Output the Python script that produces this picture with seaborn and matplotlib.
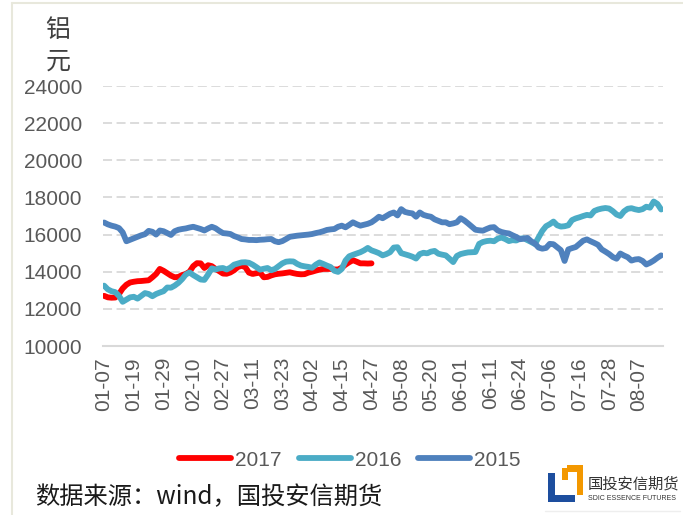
import pandas as pd
import seaborn as sns
import matplotlib.pyplot as plt
from matplotlib.lines import Line2D
from matplotlib.patches import Rectangle

tick_labels = ["01-07", "01-19", "01-29", "02-10", "02-27", "03-11", "03-23",
               "04-02", "04-15", "04-27", "05-08", "05-20", "06-01", "06-11",
               "06-24", "07-06", "07-16", "07-28", "08-07"]

price_2017 = [12700, 12620, 12600, 12610, 12800, 13100, 13300, 13420, 13460, 13490,
              13500, 13520, 13540, 13700, 13880, 14150, 14050, 13920, 13790, 13700,
              13720, 13820, 13880, 14000, 14300, 14460, 14450, 14200, 14350, 14300,
              14150, 14030, 13900, 13890, 13960, 14080, 14250, 14320, 14250, 13950,
              13880, 13920, 13950, 13700, 13720, 13800, 13860, 13890, 13910, 13940,
              13970, 13920, 13880, 13860, 13870, 13950, 14000, 14060, 14110, 14150,
              14150, 14150, 14120, 14120, 14220, 14380, 14510, 14620, 14540, 14450,
              14450, 14440, 14450]

price_2016 = [13250, 13050, 12950, 12900, 12700, 12380, 12500, 12620, 12650, 12550,
              12700, 12850, 12800, 12680, 12800, 12880, 12950, 13150, 13140, 13250,
              13400, 13600, 13850, 13960, 13820, 13700, 13580, 13560, 13850, 14180,
              14120, 14180, 14200, 14120, 14220, 14380, 14440, 14500, 14510, 14480,
              14380, 14250, 14110, 14160, 14200, 14080, 14150, 14300, 14450, 14540,
              14560, 14550, 14420, 14330, 14290, 14260, 14210, 14380, 14500, 14420,
              14330, 14250, 14050, 13990, 14150, 14600, 14830, 14910, 14980, 15050,
              15150, 15280, 15150, 15080, 15000, 14880, 14950, 15050, 15300, 15320,
              15000, 14940, 14880, 14810, 14710, 14950, 15020, 14990, 15080, 15120,
              14970, 14920, 14880, 14700, 14520, 14850, 14950, 15000, 15040, 15050,
              15060, 15500, 15600, 15650, 15670, 15640, 15780, 15840, 15760, 15650,
              15700, 15680, 15780, 15800, 15700, 15600, 15490, 15850, 16200, 16450,
              16560, 16700, 16500, 16430, 16450, 16500, 16780, 16870, 16930, 17000,
              17060, 17030, 17270, 17350, 17400, 17430, 17400, 17260, 17080, 17000,
              17250, 17390, 17420, 17360, 17320, 17370, 17500, 17450, 17780, 17650,
              17350]

price_2015 = [16650, 16550, 16480, 16430, 16350, 16120, 15640, 15720, 15800, 15880,
              15960, 16020, 16200, 16150, 16000, 16220, 16180, 16080, 15980, 16180,
              16260, 16300, 16330, 16380, 16420, 16360, 16300, 16220, 16330, 16420,
              16340, 16200, 16080, 16060, 16030, 15920, 15850, 15760, 15740, 15710,
              15710, 15700, 15720, 15730, 15750, 15760, 15640, 15590, 15650, 15760,
              15880, 15910, 15940, 15960, 15980, 16000, 16030, 16080, 16120, 16180,
              16250, 16280, 16300, 16420, 16480, 16390, 16520, 16660, 16560, 16480,
              16530, 16580, 16660, 16800, 16960, 16880, 17000, 17120, 17190, 17030,
              17370, 17220, 17170, 17140, 16960, 17190, 17060, 17000, 16960, 16820,
              16740, 16660, 16660, 16560, 16600, 16660, 16880, 16760, 16600, 16430,
              16260, 16230, 16210, 16300, 16380, 16400, 16220, 16140, 16090, 16060,
              15960, 15870, 15750, 15780, 15820, 15640, 15520, 15300, 15240, 15280,
              15500, 15480, 15320, 15160, 14580, 15200, 15270, 15330, 15500, 15670,
              15740, 15640, 15550, 15450, 15200, 15080, 14950, 14790, 14700, 14980,
              14870, 14780, 14600, 14660, 14680, 14580, 14390, 14480, 14600, 14750,
              14880]

years = ["2017", "2016", "2015"]
colors = {"2017": "#FF0000", "2016": "#4BACC6", "2015": "#4F81BD"}

frames = []
for year, vals in zip(years, [price_2017, price_2016, price_2015]):
    frames.append(pd.DataFrame({"day": range(len(vals)), "price": vals, "year": year}))
df = pd.concat(frames, ignore_index=True)

sns.set_style("white")
plt.rcParams["font.family"] = ["Liberation Sans", "Noto Sans CJK SC", "DejaVu Sans"]

W, H = 683, 515
fig = plt.figure(figsize=(W / 100, H / 100), dpi=100)
ax = fig.add_axes([103 / W, 1 - 346 / H, 560 / W, 260 / H])

sns.lineplot(data=df, x="day", y="price", hue="year", hue_order=years,
             palette=colors, lw=4.2, ax=ax, legend=False)

ax.set_ylim(10000, 24000)
ax.set_xlim(-0.3, 150.5)
ax.set_yticks(range(10000, 24001, 2000))
ax.set_xticks(range(0, 8 * len(tick_labels), 8))
ax.set_xticklabels(tick_labels, rotation=90)
ax.set_xlabel("")
ax.set_ylabel("")
ax.tick_params(axis="both", length=0, labelsize=15, labelcolor="#595959")
ax.tick_params(axis="y", pad=15)
ax.tick_params(axis="x", pad=8)

for v in range(12000, 24001, 2000):
    ax.axhline(v, color="#d9d9d9", lw=1.3, ls=(0, (5, 2.5)), zorder=0)
for s in ["top", "right", "left"]:
    ax.spines[s].set_visible(False)
ax.spines["bottom"].set_color("#d9d9d9")
ax.spines["bottom"].set_linewidth(1.5)

fig.text(58 / W, 1 - 30 / H, "铝", ha="center", va="center", fontsize=18,
         color="#404040", family=["Noto Sans CJK SC"])
fig.text(58 / W, 1 - 62 / H, "元", ha="center", va="center", fontsize=18,
         color="#404040", family=["Noto Sans CJK SC"])

handles = [Line2D([], [], color=colors[y], lw=4.2) for y in years]
fig.legend(handles, years, loc="center", bbox_to_anchor=(350 / W, 1 - 460 / H),
           ncol=3, frameon=False, fontsize=15, labelcolor="#595959",
           handlelength=2.5, handletextpad=0.2, columnspacing=0.8)

fig.text(35 / W, 1 - 497 / H, "数据来源：wind，国投安信期货", ha="left", va="center",
         fontsize=17.5, color="#1a1a1a", family=["Noto Sans CJK SC", "DejaVu Sans"])

# border
fig.add_artist(Line2D([12 / W, 12 / W], [0, 1 - 3 / H], color="#e8e8dc", lw=1.5))
fig.add_artist(Line2D([12 / W, 1], [1 - 3 / H, 1 - 3 / H], color="#e8e8dc", lw=1.5))


def px_rect(x0, y0, x1, y1, color):
    fig.add_artist(Rectangle((x0 / W, 1 - y1 / H), (x1 - x0) / W, (y1 - y0) / H,
                             transform=fig.transFigure, color=color, lw=0))


# logo
px_rect(567, 465, 583, 472, "#F39800")
px_rect(577, 465, 583, 495, "#F39800")
px_rect(562, 468, 568, 480, "#F39800")
px_rect(548, 473, 555, 502, "#1D4E9E")
px_rect(548, 495, 575, 502, "#1D4E9E")
fig.text(588 / W, 1 - 484 / H, "国投安信期货", ha="left", va="center", fontsize=11,
         color="#333333", family=["Noto Sans CJK SC"])
fig.text(588 / W, 1 - 499 / H, "SDIC ESSENCE FUTURES", ha="left", va="center",
         fontsize=5, color="#333333", family=["Liberation Sans Narrow", "Liberation Sans"])
fig.add_artist(Line2D([545 / W, 680 / W], [1 - 511 / H, 1 - 511 / H], color="#eeeeee", lw=1))

fig.savefig("out.png", dpi=100)
